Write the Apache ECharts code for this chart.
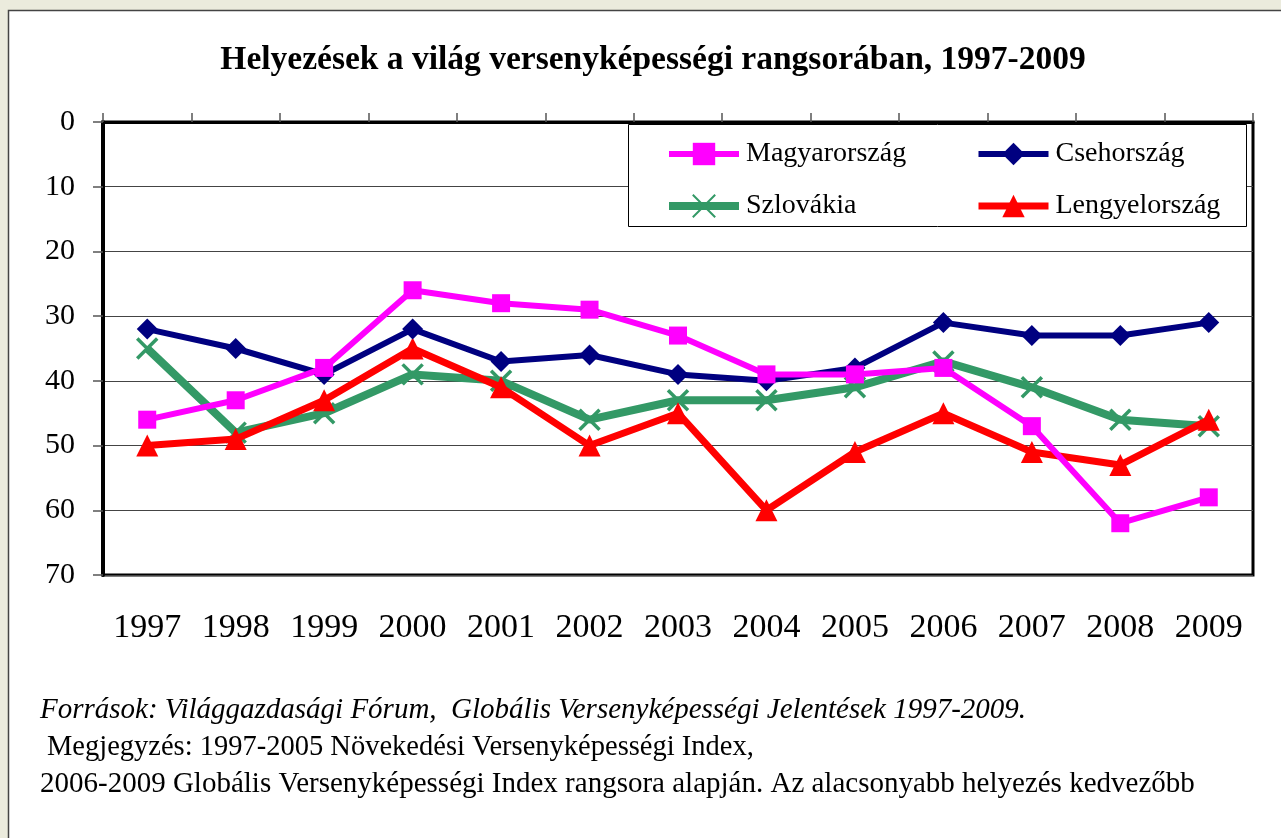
<!DOCTYPE html>
<html>
<head>
<meta charset="utf-8">
<script src="https://cdn.jsdelivr.net/npm/echarts@6/dist/echarts.min.js"></script>
<style>
  html, body { margin: 0; padding: 0; background: #ebebdd; }
  #main { width: 1281px; height: 838px; }
</style>
</head>
<body>
<div id="main"></div>
<script>
// adatok
const years = ['1997', '1998', '1999', '2000', '2001', '2002', '2003', '2004', '2005', '2006', '2007', '2008', '2009'];
const magyarorszag = [46, 43, 38, 26, 28, 29, 33, 39, 39, 38, 47, 62, 58];
const csehorszag = [32, 35, 39, 32, 37, 36, 39, 40, 38, 31, 33, 33, 31];
const szlovakia = [35, 48, 45, 39, 40, 46, 43, 43, 41, 37, 41, 46, 47];
const lengyelorszag = [50, 49, 43, 35, 41, 50, 45, 60, 51, 45, 51, 53, 46];
const yTicks = [0, 70, 10]; // min, max, lépésköz

const serif = '"Liberation Serif", "DejaVu Serif", serif';
const chart = echarts.init(document.getElementById('main'));

const legendText = { fontFamily: serif, fontSize: 28, color: '#000', padding: [0, 0, 0, 2] };

const option = {
  backgroundColor: 'transparent',
  animation: false,
  title: {
    text: 'Helyezések a világ versenyképességi rangsorában, 1997-2009',
    left: 648,
    textAlign: 'center',
    top: 38,
    textStyle: { fontFamily: serif, fontSize: 33.5, fontWeight: 'bold', color: '#000' }
  },
  graphic: [
    // fehér panel
    { type: 'rect', z: -10, shape: { x: 8.5, y: 10.5, width: 1300, height: 900 },
      style: { fill: '#fff', stroke: '#444', lineWidth: 1.5 } },
    // jelmagyarázat doboz
    { type: 'rect', z: 5, shape: { x: 628.5, y: 124.5, width: 618, height: 102 },
      style: { fill: '#fff', stroke: '#000', lineWidth: 1 } },
    { type: 'text', left: 40, top: 696, style: { text: 'Források: Világgazdasági Fórum,  Globális Versenyképességi Jelentések 1997-2009.',
      font: 'italic 29px ' + serif, fill: '#000' } },
    { type: 'text', left: 47, top: 733, style: { text: 'Megjegyzés: 1997-2005 Növekedési Versenyképességi Index,',
      font: '28.5px ' + serif, fill: '#000' } },
    { type: 'text', left: 40, top: 770, style: { text: '2006-2009 Globális Versenyképességi Index rangsora alapján. Az alacsonyabb helyezés kedvezőbb',
      font: '29px ' + serif, fill: '#000' } }
  ],
  legend: [
    {
      data: ['Magyarország', 'Szlovákia'],
      orient: 'vertical', left: 660, top: 135, itemGap: 24,
      itemWidth: 70, itemHeight: 28, lineStyle: { width: 'inherit' },
      textStyle: legendText, z: 10
    },
    {
      data: ['Csehország', 'Lengyelország'],
      orient: 'vertical', left: 970, top: 135, itemGap: 24,
      itemWidth: 70, itemHeight: 28, lineStyle: { width: 'inherit' },
      textStyle: legendText, z: 10
    }
  ],
  grid: {
    left: 103, top: 122, right: 28, bottom: 263,
    show: true, borderColor: '#000', borderWidth: 3, backgroundColor: '#fff'
  },
  xAxis: [
    {
      type: 'category', data: years, position: 'top', boundaryGap: true,
      axisLine: { show: true, lineStyle: { color: '#000', width: 3 } },
      axisTick: { show: true, inside: false, length: 9, lineStyle: { color: '#555', width: 1.5 } },
      axisLabel: { show: false }
    },
    {
      type: 'category', data: years, position: 'bottom', boundaryGap: true,
      axisLine: { show: false }, axisTick: { show: false },
      axisLabel: { margin: 36, fontFamily: serif, fontSize: 34, color: '#000' }
    }
  ],
  yAxis: {
    type: 'value', inverse: true, min: yTicks[0], max: yTicks[1], interval: yTicks[2],
    axisLine: { show: true, lineStyle: { color: '#000', width: 4 } },
    axisTick: { show: true, length: 10, lineStyle: { color: '#555', width: 1.5 } },
    axisLabel: { margin: 28, fontFamily: serif, fontSize: 30, color: '#000' },
    splitLine: { show: true, lineStyle: { color: '#444', width: 1.2 } }
  },
  series: [
    {
      name: 'Szlovákia', type: 'line', data: szlovakia, z: 2,
      symbol: 'path://M0,0L10,10M10,0L0,10', symbolSize: 20,
      lineStyle: { color: '#339966', width: 8 },
      itemStyle: { color: '#339966', borderColor: '#339966', borderWidth: 3.5 }
    },
    {
      name: 'Lengyelország', type: 'line', data: lengyelorszag, z: 3,
      symbol: 'triangle', symbolSize: 22,
      lineStyle: { color: '#ff0000', width: 7 },
      itemStyle: { color: '#ff0000' }
    },
    {
      name: 'Csehország', type: 'line', data: csehorszag, z: 4,
      symbol: 'diamond', symbolSize: 21,
      lineStyle: { color: '#000080', width: 6 },
      itemStyle: { color: '#000080' }
    },
    {
      name: 'Magyarország', type: 'line', data: magyarorszag, z: 5,
      symbol: 'rect', symbolSize: 18,
      lineStyle: { color: '#ff00ff', width: 6 },
      itemStyle: { color: '#ff00ff' }
    }
  ]
};
option.series.forEach(s => { s.xAxisIndex = 0; s.showAllSymbol = true; });
chart.setOption(option);
</script>
</body>
</html>
